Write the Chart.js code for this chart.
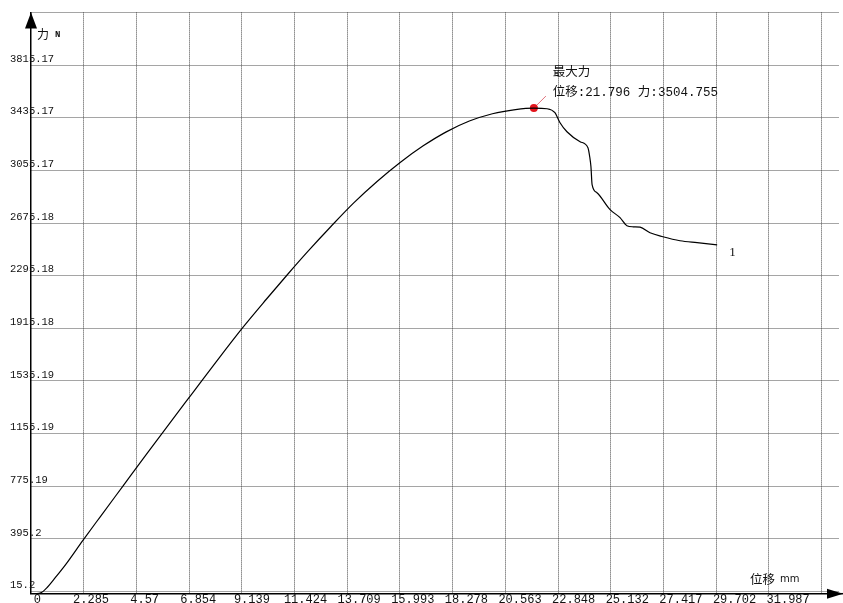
<!DOCTYPE html>
<html>
<head>
<meta charset="utf-8">
<script src="https://cdn.jsdelivr.net/npm/chart.js@4.4.1/dist/chart.umd.min.js"></script>
<style>
  html, body { margin: 0; padding: 0; background: #fff; }
  canvas { display: block; }
</style>
</head>
<body>
<canvas id="curva" width="843" height="603"></canvas>
<script>
// valores (位移 mm / 力 N)
const desplazamiento = [0, 0.25, 0.45, 0.7, 1.0, 1.5, 2.25, 3.0, 4.0, 5.0, 6.0, 7.0, 8.0, 9.15, 10.2, 11.1, 12.0, 13.0, 14.0, 15.0, 16.0, 17.0, 18.0, 19.0, 20.0, 21.0, 21.796, 22.37, 22.71, 22.93, 23.23, 23.8, 24.14, 24.22, 24.27, 24.32, 24.53, 25.1, 25.53, 25.83, 26.1, 26.4, 26.83, 27.39, 28.13, 28.87, 29.74];
const fuerza = [0, 0, 8, 45, 105, 210, 385, 555, 780, 1005, 1228, 1448, 1668, 1915, 2125, 2300, 2470, 2650, 2822, 2975, 3112, 3232, 3333, 3411, 3464, 3494, 3504.755, 3500, 3471, 3399, 3334, 3262, 3219, 3150, 3082, 2952, 2894, 2772, 2714, 2656, 2648, 2645, 2605, 2576, 2547, 2533, 2518];
const maxPunto = [21.796, 3504.755];

// lineas de la cuadricula y etiquetas de los ejes
const xGrid = [0, 2.285, 4.57, 6.854, 9.139, 11.424, 13.709, 15.993, 18.278, 20.563, 22.848, 25.132, 27.417, 29.702, 31.987, 34.272];
const xLabelValues = [0, 2.285, 4.57, 6.854, 9.139, 11.424, 13.709, 15.993, 18.278, 20.563, 22.848, 25.132, 27.417, 29.702, 31.987];
const xLabels = ['0', '2.285', '4.57', '6.854', '9.139', '11.424', '13.709', '15.993', '18.278', '20.563', '22.848', '25.132', '27.417', '29.702', '31.987'];
const yGrid = [15.2, 395.2, 775.19, 1155.19, 1535.19, 1915.18, 2295.18, 2675.18, 3055.17, 3435.17, 3815.17, 4195.17];
const yLabels = ['15.2', '395.2', '775.19', '1155.19', '1535.19', '1915.18', '2295.18', '2675.18', '3055.17', '3435.17', '3815.17', ''];

const gridColor = ctx => (ctx.tick && ctx.tick.value === 0) ? 'rgba(0,0,0,0)' : '#4a4a4a';

// flechas, titulos de ejes y marca de fuerza maxima
const decoracion = {
    id: 'decoracion',
    afterDraw(chart) {
        const { ctx, chartArea: a, scales: { x, y } } = chart;
        ctx.save();
        ctx.fillStyle = '#000';
        ctx.strokeStyle = '#000';
        ctx.lineWidth = 1.5;
        ctx.beginPath();
        ctx.moveTo(a.right, a.bottom);
        ctx.lineTo(chart.width, a.bottom);
        ctx.stroke();
        // flecha eje x
        ctx.beginPath();
        ctx.moveTo(chart.width, a.bottom);
        ctx.lineTo(chart.width - 16, a.bottom - 5);
        ctx.lineTo(chart.width - 16, a.bottom + 5);
        ctx.closePath();
        ctx.fill();
        // flecha eje y
        ctx.beginPath();
        ctx.moveTo(a.left, a.top);
        ctx.lineTo(a.left - 6, a.top + 16);
        ctx.lineTo(a.left + 6, a.top + 16);
        ctx.closePath();
        ctx.fill();

        ctx.textBaseline = 'middle';
        ctx.textAlign = 'left';
        ctx.fillStyle = '#111';
        ctx.font = '12px "Noto Sans CJK SC"';
        ctx.fillText('力', a.left + 6, a.top + 22);
        ctx.font = 'bold 9px "Liberation Mono"';
        ctx.fillText('N', a.left + 24, a.top + 22);
        ctx.font = '12.5px "Noto Sans CJK SC"';
        ctx.fillText('位移', 750, a.bottom - 14);
        ctx.font = '10px "DejaVu Sans"';
        ctx.fillText('mm', 780, a.bottom - 14);

        // fuerza maxima
        const px = x.getPixelForValue(maxPunto[0]);
        const py = y.getPixelForValue(maxPunto[1]);
        ctx.strokeStyle = '#e0707a';
        ctx.lineWidth = 1;
        ctx.beginPath();
        ctx.moveTo(px + 3, py - 3);
        ctx.lineTo(px + 12, py - 12);
        ctx.stroke();
        ctx.fillStyle = '#111';
        ctx.font = '12.5px "Liberation Mono", "Noto Sans CJK SC"';
        ctx.fillText('最大力', px + 19, py - 35);
        ctx.fillText('位移:' + maxPunto[0] + ' 力:' + maxPunto[1], px + 19, py - 15);

        // numero de la curva
        const n = desplazamiento.length - 1;
        ctx.font = '13px "Liberation Serif"';
        ctx.fillText('1', x.getPixelForValue(desplazamiento[n]) + 12, y.getPixelForValue(fuerza[n]) + 8);
        ctx.restore();
    }
};

new Chart(document.getElementById('curva').getContext('2d'), {
    type: 'line',
    data: {
        datasets: [
            {
                data: desplazamiento.map((d, i) => ({ x: d, y: fuerza[i] })),
                borderColor: '#000',
                borderWidth: 1.2,
                pointRadius: 0,
                cubicInterpolationMode: 'monotone',
                xAxisID: 'x'
            },
            {
                data: [{ x: maxPunto[0], y: maxPunto[1] }],
                showLine: false,
                pointRadius: 4,
                pointBackgroundColor: '#e3141c',
                pointBorderWidth: 0,
                xAxisID: 'x'
            }
        ]
    },
    options: {
        responsive: false,
        animation: false,
        layout: { padding: { top: 12.4, right: 4.5, left: 0, bottom: 0 } },
        plugins: { legend: { display: false }, tooltip: { enabled: false } },
        scales: {
            x: {
                type: 'linear',
                position: 'bottom',
                weight: 0,
                min: 0,
                max: 35,
                afterBuildTicks: s => { s.ticks = xGrid.map(v => ({ value: v })); },
                afterFit: s => { s.height = 0; },
                ticks: { display: false },
                grid: { color: gridColor, lineWidth: 1, drawTicks: false, borderDash: [1, 1] },
                border: { display: true, color: '#000', width: 1.5, dash: [1, 1] }
            },
            xl: {
                type: 'linear',
                position: 'bottom',
                weight: 1,
                min: -0.273,
                max: 34.133,
                afterBuildTicks: s => { s.ticks = xLabelValues.map(v => ({ value: v })); },
                afterFit: s => { s.height = 9.3; },
                grid: { display: false, drawTicks: false },
                border: { display: false },
                ticks: {
                    autoSkip: false,
                    maxRotation: 0,
                    padding: 0,
                    color: '#111',
                    font: { family: '"Liberation Mono"', size: 12, lineHeight: 1 },
                    callback: (v, i) => xLabels[i]
                }
            },
            y: {
                type: 'linear',
                position: 'left',
                min: 0,
                max: 4195.17,
                afterBuildTicks: s => { s.ticks = yGrid.map(v => ({ value: v })); },
                afterFit: s => { s.width = 31; },
                grid: { color: '#4a4a4a', lineWidth: 1, drawTicks: false, borderDash: [1, 1] },
                border: { display: true, color: '#000', width: 1.5, dash: [1, 1] },
                ticks: {
                    mirror: true,
                    crossAlign: 'near',
                    padding: -21,
                    labelOffset: -6,
                    autoSkip: false,
                    color: '#111',
                    font: { family: '"Liberation Mono"', size: 10.5 },
                    callback: (v, i) => yLabels[i]
                }
            }
        }
    },
    plugins: [decoracion]
});
</script>
</body>
</html>
